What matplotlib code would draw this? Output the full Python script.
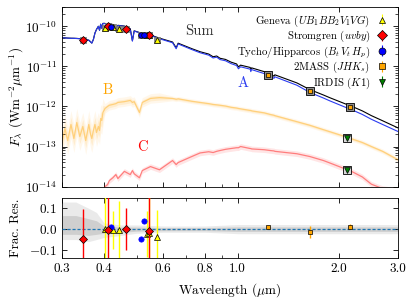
import numpy as np
import matplotlib
matplotlib.use("Agg")
import matplotlib.pyplot as plt
from matplotlib.ticker import FixedLocator, NullFormatter, FixedFormatter, LogFormatterSciNotation

plt.rcParams['font.family'] = 'serif'
plt.rcParams['font.serif'] = ['cmr10']
plt.rcParams['mathtext.fontset'] = 'cm'
plt.rcParams['axes.formatter.use_mathtext'] = True
plt.rcParams['axes.unicode_minus'] = True

# ---------------- spectra (log10 flux, W m^-2 um^-1) ----------------
wl = [0.300, 0.306, 0.312, 0.319, 0.3255, 0.332, 0.339, 0.346, 0.353, 0.3605,
      0.365, 0.368, 0.372, 0.376, 0.380, 0.385, 0.388, 0.391, 0.394, 0.397,
      0.403, 0.410, 0.415, 0.425, 0.434, 0.44, 0.46, 0.479, 0.486, 0.492,
      0.51, 0.52, 0.55, 0.585, 0.64, 0.656, 0.665, 0.73, 0.773, 0.82,
      0.845, 0.866, 0.886, 0.92, 0.955, 0.993, 1.005, 1.02, 1.09, 1.094,
      1.1, 1.2, 1.25, 1.282, 1.29, 1.5, 1.64, 1.8, 1.88, 2.12,
      2.16, 2.166, 2.17, 2.35, 2.5, 2.7, 3.0]
logA = [-10.29, -10.29, -10.295, -10.30, -10.30, -10.305, -10.31, -10.32, -10.33, -10.35,
        -10.39, -10.42, -10.33, -10.17, -10.08, -10.00, -10.10, -9.95, -10.05, -9.93,
        -9.93, -10.05, -9.94, -9.96, -10.12, -9.98, -10.00, -10.07, -10.37, -10.12,
        -10.16, -10.18, -10.23, -10.31, -10.41, -10.56, -10.44, -10.58, -10.66, -10.72,
        -10.79, -10.77, -10.83, -10.86, -10.93, -10.98, -11.06, -11.01, -11.07, -11.13,
        -11.08, -11.18, -11.225, -11.30, -11.26, -11.47, -11.65, -11.79, -11.86, -12.04,
        -12.065, -12.12, -12.07, -12.20, -12.32, -12.45, -12.625]
logB = [-12.9, -12.55, -12.85, -12.45, -12.8, -12.4, -12.75, -12.5, -12.85, -12.45,
        -12.7, -12.8, -12.6, -12.45, -12.65, -12.5, -12.6, -12.3, -12.35, -12.15,
        -12.05, -12.0, -11.97, -11.95, -11.93, -11.9, -11.88, -11.85, -11.9, -11.88,
        -12.15, -11.9, -11.8, -11.78, -11.8, -11.82, -11.81, -11.87, -11.9, -11.93,
        -11.95, -11.96, -11.97, -11.99, -12.02, -12.04, -12.05, -12.06, -12.1, -12.1,
        -12.11, -12.16, -12.2, -12.22, -12.23, -12.38, -12.47, -12.58, -12.63, -12.77,
        -12.79, -12.8, -12.8, -12.9, -13.0, -13.12, -13.33]
logC = [-14.5, -14.5, -14.5, -14.5, -14.5, -14.5, -14.5, -14.5, -14.5, -14.5,
        -14.5, -14.5, -14.5, -14.5, -14.5, -14.5, -14.5, -14.4, -14.3, -14.15,
        -14.0, -13.95, -13.85, -13.78, -13.7, -13.8, -13.62, -13.7, -13.6, -13.68,
        -13.78, -13.6, -13.5, -13.58, -13.35, -13.45, -13.4, -13.25, -13.16, -13.13,
        -13.15, -13.12, -13.1, -13.07, -13.05, -13.03, -13.03, -13.0, -13.05, -13.05,
        -13.06, -13.08, -13.1, -13.11, -13.12, -13.18, -13.25, -13.35, -13.41, -13.58,
        -13.6, -13.6, -13.61, -13.76, -13.94, -14.05, -14.1]
spreadB = [0.35]*20 + [0.12]*14 + [0.06]*33
spreadC = [0.07]*67

# ---------------- photometry ----------------
gen_wl = [0.403, 0.425, 0.443, 0.538, 0.545, 0.575]
gen_f = [9.1e-11, 9.4e-11, 8.8e-11, 6.1e-11, 5.9e-11, 4.6e-11]
gen_res = [0.0, -0.005, -0.005, -0.025, -0.017, -0.037]
gen_err = [0.2, 0.09, 0.14, 0.11, 0.2, 0.13]

str_wl = [0.346, 0.410, 0.465, 0.545]
str_f = [4.47e-11, 1.0e-10, 8.8e-11, 5.9e-11]
str_res = [-0.045, -0.005, 0.0, -0.008]
str_err = [0.142, 0.2, 0.1, 0.2]

tyc_wl = [0.420, 0.515, 0.525]
tyc_f = [9.6e-11, 6.2e-11, 6.0e-11]
tyc_res = [0.008, -0.045, 0.038]

tm_wl = [1.235, 1.64, 2.16]
tm_f = [6.2e-12, 2.45e-12, 9.7e-13]
tm_res = [0.008, -0.013, 0.011]
tm_err = [0.005, 0.03, 0.012]

ird_wl = [2.11, 2.11]
ird_f = [1.62e-13, 2.6e-14]

# residual model scatter band
band_wl = [0.30, 0.33, 0.36, 0.38, 0.40, 0.45, 0.50, 0.60, 0.80, 1.0, 1.5, 2.0, 3.0]
band_hi = [0.13, 0.13, 0.10, 0.08, 0.03, 0.02, 0.02, 0.015, 0.015, 0.022, 0.022, 0.022, 0.022]
band_lo = [-0.05, -0.05, -0.06, -0.05, -0.04, -0.03, -0.02, -0.015, -0.015, -0.022, -0.022, -0.022, -0.022]

xticks = [0.3, 0.4, 0.6, 0.8, 1.0, 2.0, 3.0]
xticklabels = ['0.3', '0.4', '0.6', '0.8', '1.0', '2.0', '3.0']
yticks = [1e-14, 1e-13, 1e-12, 1e-11, 1e-10]

# ---------------- figure ----------------
fig = plt.figure(figsize=(4.15, 3.0), dpi=100)
ax = fig.add_axes([0.1494, 0.378, 0.8096, 0.599])
axr = fig.add_axes([0.1494, 0.139, 0.8096, 0.200])

w = np.array(wl)
A = 10**np.array(logA)
B = 10**np.array(logB)
C = 10**np.array(logC)
S = A + B + C
lb, sb = np.array(logB), np.array(spreadB)
lc, sc = np.array(logC), np.array(spreadC)

ax.fill_between(w, 10**(lb - sb), 10**(lb + sb), color='orange', alpha=0.08, lw=0)
ax.fill_between(w, 10**(lb - sb/2), 10**(lb + sb/2), color='orange', alpha=0.12, lw=0)
ax.plot(w, B, color='orange', alpha=0.4, lw=0.9)
ax.fill_between(w, 10**(lc - sc), 10**(lc + sc), color='red', alpha=0.1, lw=0)
ax.plot(w, C, color='red', alpha=0.45, lw=0.9)
ax.plot(w, S, color='k', lw=0.8)
ax.plot(w, A, color='#2a3bf0', lw=0.8)

ax.plot(gen_wl + str_wl + tyc_wl, gen_f + str_f + tyc_f, ls='none', marker='s', ms=4.5,
        mfc='0.55', mec='0.45', mew=0.5, zorder=4)
ax.plot(tm_wl, tm_f, ls='none', marker='s', ms=5.5, mfc='0.55', mec='k', mew=0.6, zorder=4)
ax.plot(ird_wl, ird_f, ls='none', marker='s', ms=5.5, mfc='0.85', mec='k', mew=0.6, zorder=4)

h1 = ax.errorbar(gen_wl, gen_f, yerr=[0]*len(gen_wl), fmt='^', ms=4, mfc='yellow', mec='k', mew=0.5,
                 ecolor='yellow', elinewidth=0.8, zorder=5)
h2 = ax.errorbar(str_wl, str_f, yerr=[0]*len(str_wl), fmt='D', ms=4.2, mfc='red', mec='k', mew=0.5,
                 ecolor='red', elinewidth=0.8, zorder=5)
h3 = ax.errorbar(tyc_wl, tyc_f, yerr=[0]*len(tyc_wl), fmt='o', ms=4, mfc='blue', mec='k', mew=0.5,
                 ecolor='blue', elinewidth=0.8, zorder=5)
h4 = ax.errorbar(tm_wl, tm_f, yerr=[0]*len(tm_wl), fmt='s', ms=3.4, mfc='orange', mec='k', mew=0.5,
                 ecolor='orange', elinewidth=0.8, zorder=5)
h5 = ax.errorbar(ird_wl, ird_f, yerr=[0]*len(ird_wl), fmt='v', ms=3.8, mfc='green', mec='k', mew=0.5,
                 ecolor='green', elinewidth=0.8, zorder=5)

leg = ax.legend([h1, h2, h3, h4, h5],
                ['Geneva ($UB_1BB_2V_1VG$)', 'Stromgren ($uvby$)',
                 'Tycho/Hipparcos ($B_t\\,V_t\\,H_p$)', '2MASS ($JHK_s$)', 'IRDIS ($K1$)'],
                loc='upper right', frameon=False, markerfirst=False, fontsize=7.8,
                handlelength=0.9, handletextpad=0.6, labelspacing=0.02, markerscale=1.25,
                borderaxespad=0.2, bbox_to_anchor=(0.985, 1.0))

ax.text(0.77, 7.4e-11, 'Sum', color='0.2', fontsize=10.5, ha='center', va='center')
ax.text(1.04, 3.9e-12, 'A', color='#2a3bf0', fontsize=10.5, ha='center', va='center')
ax.text(0.411, 2.6e-12, 'B', color='orange', fontsize=10.5, ha='center', va='center')
ax.text(0.519, 9.8e-14, 'C', color='red', fontsize=10.5, ha='center', va='center')

ax.set_xscale('log')
ax.set_yscale('log')
ax.set_xlim(0.3, 3.0)
ax.set_ylim(1e-14, 3.05e-10)
ax.set_ylabel('$F_\\lambda$ (Wm$^{-2}\\mu$m$^{-1}$)', fontsize=9.5)
ax.yaxis.set_label_coords(-0.108, 0.5)
ax.yaxis.set_major_locator(FixedLocator(yticks))
ax.yaxis.set_major_formatter(LogFormatterSciNotation())
minor_y = [m * 10.0**e for e in range(-14, -9) for m in range(2, 10) if m * 10.0**e <= 3.05e-10]
ax.yaxis.set_minor_locator(FixedLocator(minor_y))
ax.yaxis.set_minor_formatter(NullFormatter())

# residuals
axr.fill_between(band_wl, band_lo, band_hi, color='0.6', alpha=0.2, lw=0)
axr.fill_between(band_wl, [v*0.5 for v in band_lo], [v*0.5 for v in band_hi], color='0.5', alpha=0.25, lw=0)
axr.axhline(0, color='#1f77b4', ls='--', lw=0.9, dashes=(2.5, 1.5), zorder=3)
axr.errorbar(gen_wl, gen_res, yerr=gen_err, fmt='^', ms=3.8, mfc='yellow', mec='k', mew=0.5,
             ecolor='yellow', elinewidth=1.0, zorder=5)
axr.errorbar(str_wl, str_res, yerr=str_err, fmt='D', ms=4.2, mfc='red', mec='k', mew=0.5,
             ecolor='red', elinewidth=1.0, zorder=6)
axr.plot(tyc_wl, tyc_res, 'o', ms=3.8, mfc='blue', mec='blue', mew=0.5, zorder=6)
axr.errorbar(tm_wl, tm_res, yerr=tm_err, fmt='s', ms=3.4, mfc='orange', mec='k', mew=0.5,
             ecolor='orange', elinewidth=1.0, zorder=6)
axr.set_xscale('log')
axr.set_xlim(0.3, 3.0)
axr.set_ylim(-0.14, 0.148)
axr.set_yticks([-0.1, 0.0, 0.1])
axr.set_ylabel('Frac. Res.', fontsize=9.5)
axr.yaxis.set_label_coords(-0.118, 0.5)
axr.set_xlabel('Wavelength ($\\mu$m)', fontsize=9.5)

for a in (ax, axr):
    a.xaxis.set_major_locator(FixedLocator(xticks))
    a.xaxis.set_minor_locator(FixedLocator([0.5, 0.7, 0.9]))
    a.xaxis.set_minor_formatter(NullFormatter())
    a.tick_params(which='both', direction='in', top=True, right=True, labelsize=9.5)
    a.tick_params(which='major', length=3.5, width=0.6)
    a.tick_params(which='minor', length=2, width=0.5)
    for s in a.spines.values():
        s.set_linewidth(0.6)
axr.xaxis.set_major_formatter(FixedFormatter(xticklabels))
ax.xaxis.set_major_formatter(NullFormatter())

fig.savefig('out.png', dpi=100)
